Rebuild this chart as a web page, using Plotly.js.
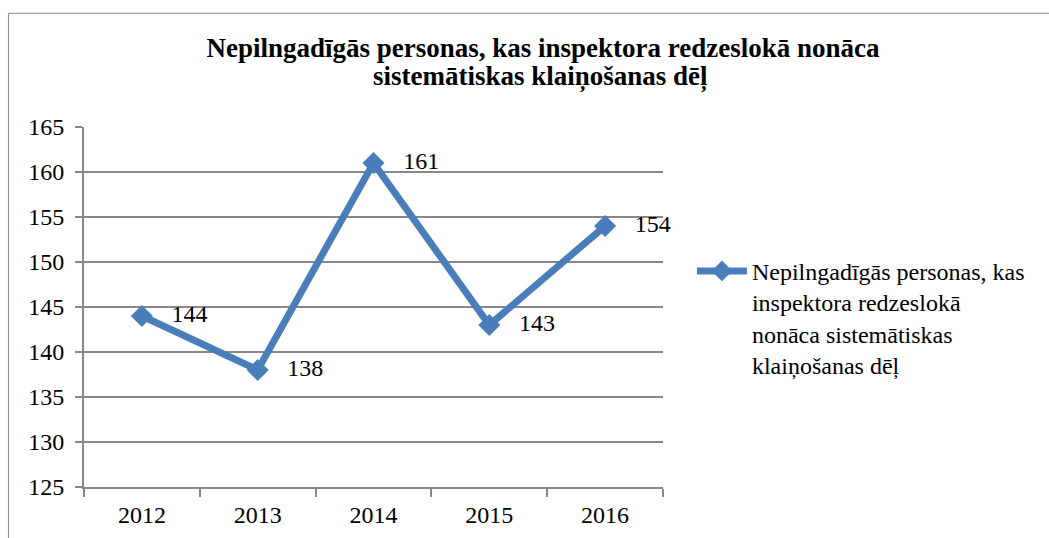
<!DOCTYPE html>
<html><head><meta charset="utf-8">
<script src="https://cdn.plot.ly/plotly-3.0.1.min.js"></script>
<style>body{margin:0}</style>
</head><body>
<div id="chart" style="width:1049px;height:538px;"></div>
<script>
const years = ['2012','2013','2014','2015','2016'];
const values = [144, 138, 161, 143, 154];
const seriesName = 'Nepilngadīgās personas, kas<br>inspektora redzeslokā<br>nonāca sistemātiskas<br>klaiņošanas dēļ';
const titleLine1 = 'Nepilngadīgās personas, kas inspektora redzeslokā nonāca';
const titleLine2 = 'sistemātiskas klaiņošanas dēļ';
const yTicks = [125,130,135,140,145,150,155,160,165];

const fam = 'Times New Roman';
Plotly.newPlot('chart', [{
  x: years, y: values, type: 'scatter', mode: 'lines+markers+text',
  name: seriesName,
  text: values.map(String), texttemplate: '\u00a0\u00a0\u00a0%{text}', textposition: 'middle right',
  textfont: {family: fam, size: 24},
  line: {color: '#4A7EBB', width: 7},
  marker: {symbol: 'diamond', size: 17, color: '#4A7EBB'},
  cliponaxis: false
}], {
  width: 1049, height: 538,
  margin: {l: 84, r: 386, t: 127, b: 51},
  font: {family: fam, size: 24, color: '#000'},
  title: {text: titleLine1, x: 543/1049, xref: 'container', xanchor: 'center', y: 0.9108, yref: 'container', yanchor: 'middle', font: {family: fam, size: 27, weight: 'bold'}},
  annotations: [{text: titleLine2, xref: 'paper', yref: 'paper', x: (540-84)/579, y: (487-76)/361, xanchor: 'center', yanchor: 'middle', showarrow: false, font: {family: fam, size: 27, weight: 'bold', color: '#000'}}],
  xaxis: {type: 'category', showline: true, linecolor: '#888', linewidth: 2, ticks: 'outside', tickson: 'boundaries', ticklen: 8, tickcolor: '#888', tickwidth: 2, showgrid: false, tickfont: {family: fam, size: 24}, ticklabelstandoff: 5, range: [-0.5, 4.5]},
  yaxis: {range: [125, 165], tickvals: yTicks, showline: true, linecolor: '#888', linewidth: 2, ticks: 'outside', ticklen: 7, tickcolor: '#888', tickwidth: 2, showgrid: true, gridcolor: '#888', gridwidth: 1.5, zeroline: false, tickfont: {family: fam, size: 24}, ticklabelstandoff: 6},
  showlegend: true,
  legend: {x: 1.05, xanchor: 'left', y: 0.47, yanchor: 'middle', font: {family: fam, size: 24}, valign: 'top', itemwidth: 50, bgcolor: 'rgba(0,0,0,0)'},
  shapes: [{type: 'rect', xref: 'paper', yref: 'paper', x0: -0.1305, x1: 1.9, y0: -0.5, y1: 1.3158, line: {color: '#888', width: 1}, fillcolor: 'rgba(0,0,0,0)', layer: 'below'}]
}, {displayModeBar: false, staticPlot: true});
</script>
</body></html>
